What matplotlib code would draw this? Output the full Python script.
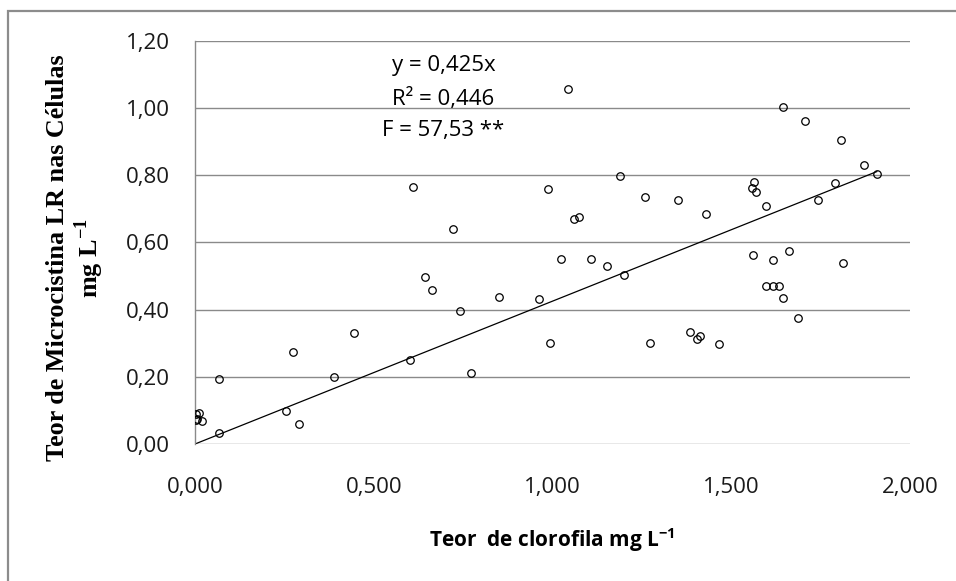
import matplotlib
matplotlib.use("Agg")
from matplotlib import pyplot as plt
from matplotlib.patches import Rectangle

# clorofila (x) and microcistina LR (y)
clorofila = [0.003, 0.010, 0.005, 0.020, 0.002, 0.067, 0.067, 0.254, 0.275, 0.290,
             0.390, 0.445, 0.601, 0.610, 0.643, 0.662, 0.721, 0.741, 0.773, 0.851,
             0.963, 0.987, 0.993, 1.025, 1.042, 1.061, 1.075, 1.107, 1.153, 1.188,
             1.200, 1.258, 1.273, 1.351, 1.385, 1.405, 1.413, 1.428, 1.466, 1.559,
             1.561, 1.564, 1.569, 1.597, 1.598, 1.616, 1.616, 1.634, 1.645, 1.646,
             1.662, 1.688, 1.706, 1.742, 1.789, 1.806, 1.812, 1.871, 1.907]
microcistina = [0.088, 0.092, 0.075, 0.068, 0.070, 0.193, 0.032, 0.097, 0.273, 0.059,
                0.199, 0.330, 0.250, 0.765, 0.497, 0.458, 0.639, 0.397, 0.211, 0.437,
                0.431, 0.758, 0.302, 0.550, 1.057, 0.670, 0.676, 0.549, 0.530, 0.798,
                0.502, 0.735, 0.300, 0.727, 0.334, 0.312, 0.321, 0.685, 0.298, 0.763,
                0.563, 0.781, 0.751, 0.471, 0.708, 0.469, 0.547, 0.471, 1.004, 0.434,
                0.575, 0.376, 0.960, 0.727, 0.777, 0.905, 0.540, 0.830, 0.804]
slope = 0.425
x_ticks = [0.0, 0.5, 1.0, 1.5, 2.0]
x_labels = ["0,000", "0,500", "1,000", "1,500", "2,000"]
y_ticks = [0.0, 0.2, 0.4, 0.6, 0.8, 1.0, 1.2]
y_labels = ["0,00", "0,20", "0,40", "0,60", "0,80", "1,00", "1,20"]

W, H = 956, 581
fig = plt.figure(figsize=(W / 100, H / 100), dpi=100)
ax = fig.add_axes([195 / W, 1 - 444 / H, (910 - 195) / W, (444 - 40.7) / H])

# outer chart frame (cut off at right and bottom like the screenshot)
fig.patches.append(Rectangle((8 / W, -0.1), 1.2, 1 - 11 / H + 0.1, transform=fig.transFigure,
                             fill=False, edgecolor="#8c8c8c", linewidth=1.6))

grid_c = "#8a8a8a"
for yv in y_ticks:
    ax.axhline(yv, color=grid_c, linewidth=1.0, zorder=1)

xs = [0, max(clorofila)]
ax.plot(xs, [slope * v for v in xs], color="black", linewidth=0.9, zorder=2)
ax.plot(clorofila, microcistina, linestyle="none", marker="o", markersize=5.4,
        markerfacecolor="none", markeredgecolor="black", markeredgewidth=0.9, zorder=3)

ax.set_xlim(0, 2.0)
ax.set_ylim(0, 1.2)
ax.set_xticks(x_ticks)
ax.set_xticklabels(x_labels)
ax.set_yticks(y_ticks)
ax.set_yticklabels(y_labels)
for s in ["top", "right", "bottom"]:
    ax.spines[s].set_visible(False)
ax.spines["left"].set_color(grid_c)
ax.spines["left"].set_linewidth(1.0)
ax.tick_params(axis="both", length=0, labelsize=16, labelcolor="#1a1a1a")
ax.tick_params(axis="y", pad=18)
ax.tick_params(axis="x", pad=24)
for lab in ax.get_xticklabels() + ax.get_yticklabels():
    lab.set_family("Open Sans")

eq_x = 0.695
ax.text(eq_x, 1.125, "y = 0,425x", ha="center", va="center", fontsize=16, family="Open Sans")
ax.text(eq_x, 1.027, "R² = 0,446", ha="center", va="center", fontsize=16, family="Open Sans")
ax.text(eq_x, 0.932, "F = 57,53 **", ha="center", va="center", fontsize=16, family="Open Sans")

fig.text(552.5 / W, 1 - 540 / H, r"Teor  de clorofila mg L$^{\mathregular{-1}}$", ha="center",
         va="center", fontsize=15, fontweight="bold", family="Open Sans")
fig.text(76 / W, 1 - 258 / H, "Teor de Microcistina LR nas Células\n" + r"mg L$^{\mathregular{-1}}$",
         ha="center", va="center", rotation=90, fontsize=18.8, fontweight="bold",
         family="Liberation Serif", linespacing=1.15)

fig.savefig("out.png", dpi=100)
